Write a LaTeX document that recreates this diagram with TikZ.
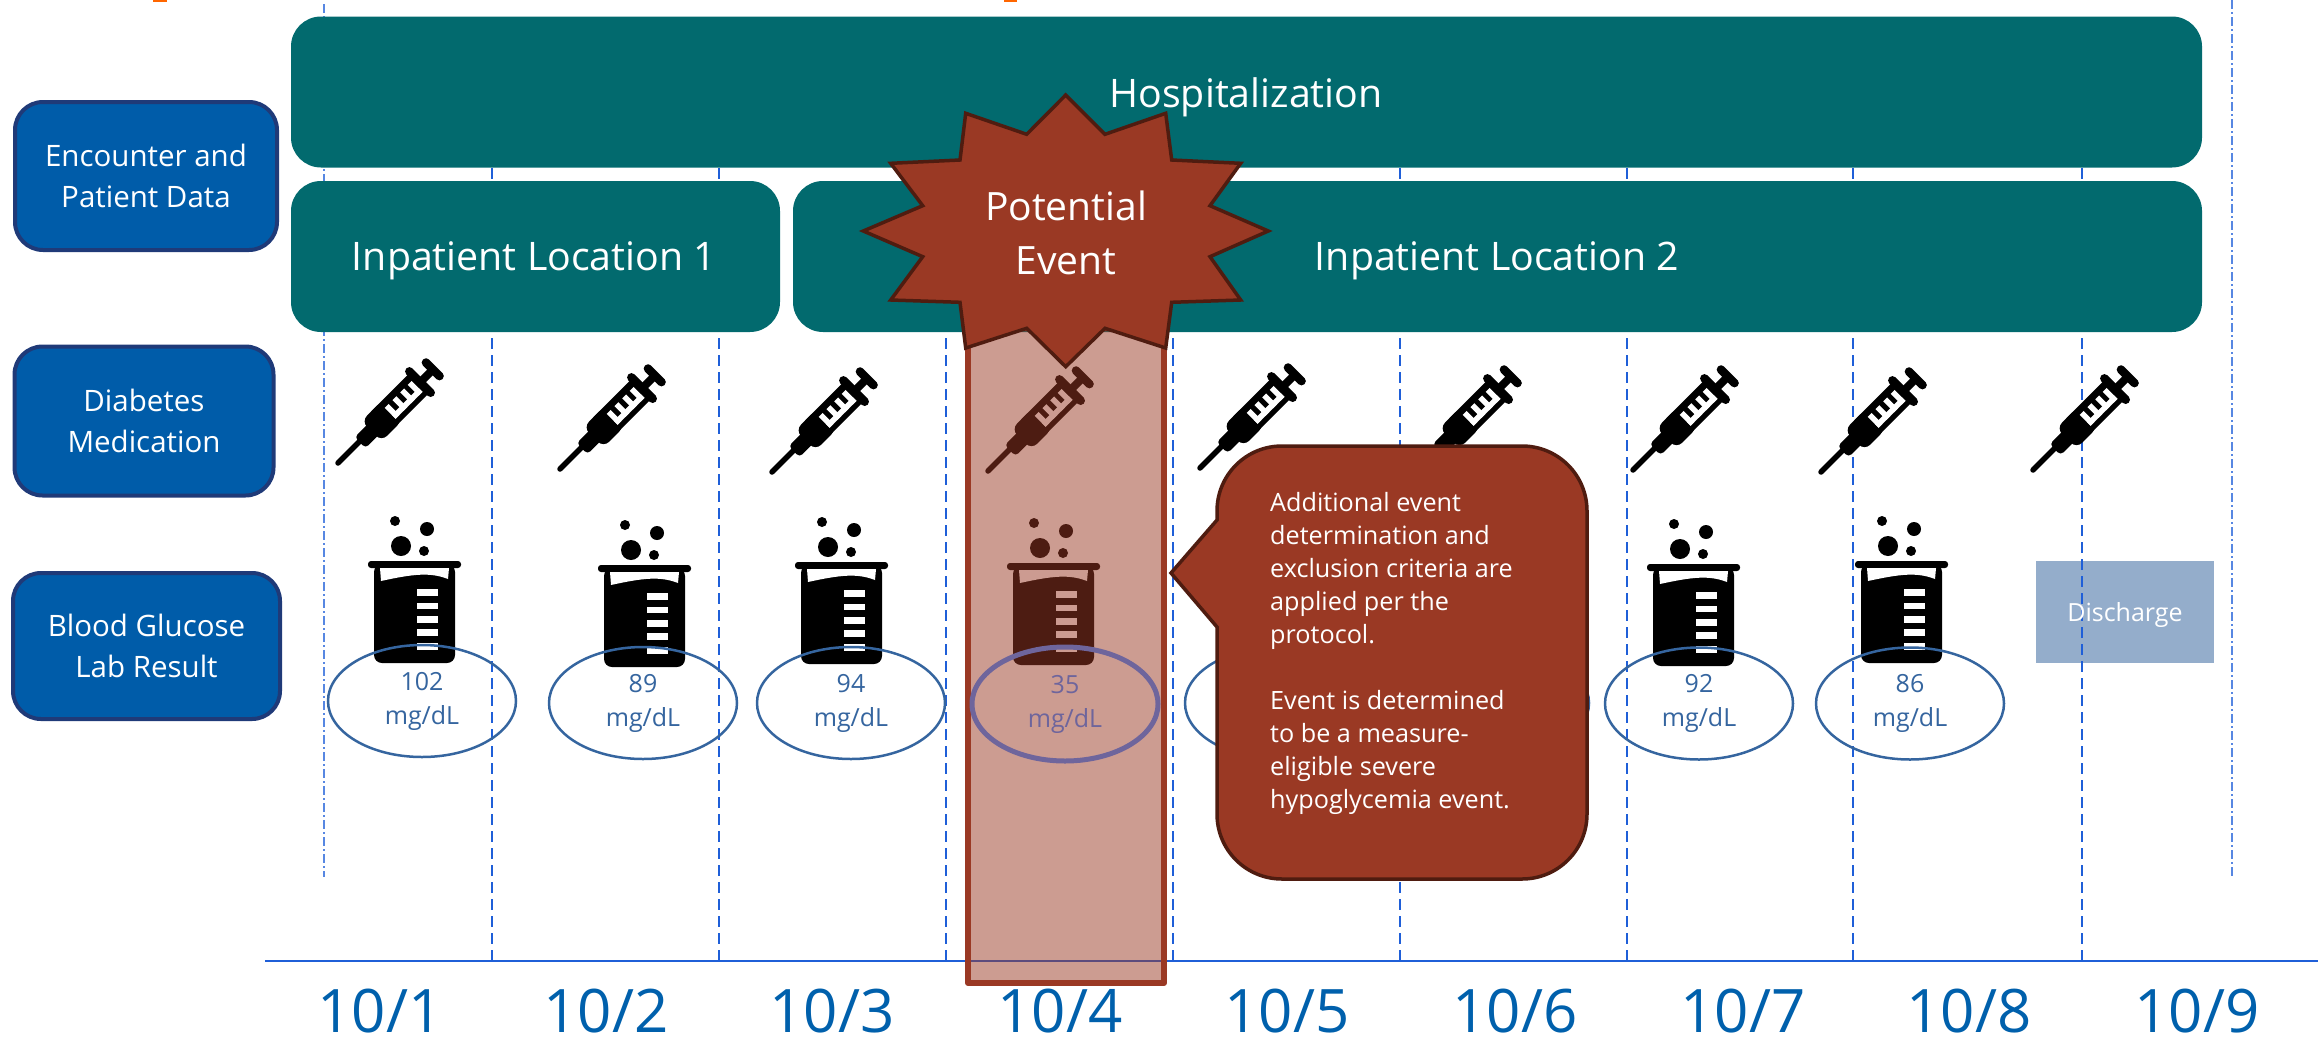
\documentclass[tikz,border=0pt]{standalone}
\usepackage{fontspec}
\setmainfont{Open Sans}
\usetikzlibrary{shapes.geometric}
\definecolor{teal1}{HTML}{026A6E}
\definecolor{navyfill}{HTML}{005CA9}
\definecolor{navyline}{HTML}{1F3A78}
\definecolor{brick}{HTML}{9A3924}
\definecolor{brickdk}{HTML}{4F1C10}
\definecolor{gridblue}{HTML}{1F5FD8}
\definecolor{ovalblue}{HTML}{35659F}
\definecolor{datecol}{HTML}{0060AC}
\definecolor{dischg}{HTML}{94ADCB}
\definecolor{purp}{HTML}{6E659C}
\newcommand{\fs}[2]{\fontsize{#1}{#2}\selectfont}
\newcommand{\ovtxt}[1]{\raisebox{-2pt}{#1}\\\raisebox{-1pt}{mg/dL}}
\tikzset{
  band/.style={rectangle,rounded corners=30pt,fill=teal1,text=white,inner sep=0pt},
  bandtext/.style={text=white,font=\fs{39.3}{44},inner sep=0pt},
  rowlabel/.style={rectangle,rounded corners=28pt,fill=navyfill,draw=navyline,line width=4pt,text=white,align=center,inner sep=0pt,font=\fs{29.5}{41}},
  griddash/.style={gridblue,line width=2.4pt,dash pattern=on 11pt off 6pt},
  gridthin/.style={gridblue!75,line width=1.2pt,dash pattern=on 9pt off 3pt on 2pt off 3pt},
  oval/.style={ellipse,draw=ovalblue,line width=2.5pt,minimum width=188pt,minimum height=112pt,inner sep=0pt,text=ovalblue,align=center,font=\fs{25}{35}},
  datelabel/.style={text=datecol,font=\fs{60}{62},inner sep=0pt},
}
\newcommand{\syrng}[2]{%
  \begin{scope}[shift={(#1,#2)},rotate=45]
    \draw[line width=5.5pt,line cap=round] (0,0) -- (34,0);
    \fill[rounded corners=4pt] (30,-6.5) rectangle (56,9);
    \fill[rounded corners=8pt] (46,-13) rectangle (76,15.5);
    \fill (60,-13) rectangle (116,15);
    \fill (112,-3) rectangle (134,5);
    \fill[rounded corners=4pt] (111,-18.5) rectangle (119.5,20);
    \fill[rounded corners=4pt] (129,-13) rectangle (137.5,14.5);
    \fill[white] (72,4) rectangle (110,9.5);
    \foreach \t in {72,83,94,104.5} {\fill[white] (\t,-6) rectangle (\t+5.5,9.5);}
  \end{scope}}
\newcommand{\bkr}[2]{%
  \begin{scope}[shift={(#1,#2)}]
    \fill[rounded corners=3pt] (0,0) rectangle (93,7);
    \fill[rounded corners=8pt] (6,3) rectangle (87,102);
    \fill[white] (12,7) -- (81,7) -- (80,18) .. controls (62,11) and (45,13) .. (13,20) -- cycle;
    \foreach \t in {28,41.5,55,68,82} {\fill[white] (49,\t) rectangle (70,\t+6.5);}
    \fill (33,-15) circle (10);
    \fill (59,-32) circle (7);
    \fill (27,-40) circle (5);
    \fill (56,-10) circle (5);
  \end{scope}}
\begin{document}
\begin{tikzpicture}[x=1pt,y=-1pt]
\useasboundingbox (0,0) rectangle (2318,1039);
\fill[orange!80!red] (153,0) rectangle (167,2);
\fill[orange!80!red] (1004,0) rectangle (1017,2);
% discharge box under grid
\node[fill=dischg,minimum width=178pt,minimum height=102pt,inner sep=0pt] (dis) at (2125,612) {};
% grid
\coordinate (axl) at (265,961);
\coordinate (axr) at (2318,961);
\draw[gridthin] (324,4) -- (324,877);
\draw[gridthin] (2232,0) -- (2232,877);
\foreach \x in {492,719,946,1173,1400,1627,1853,2082} {\draw[griddash] (\x,168) -- (\x,961);}
\draw[gridblue,line width=2.4pt] (axl) -- (axr);
% bands
\node[band,minimum width=1911pt,minimum height=151pt] (hosp) at (1246.5,92) {};
\node[band,minimum width=489pt,minimum height=151pt] (loc1) at (535.5,256.5) {};
\node[band,minimum width=1409pt,minimum height=151pt] (loc2) at (1497.5,256.5) {};
\node[bandtext] (hosptxt) at (1246,97) {Hospitalization};
\node[bandtext] (loc1txt) at (534,261) {Inpatient Location 1};
\node[bandtext] (loc2txt) at (1497,261) {Inpatient Location 2};
% row labels
\node[rowlabel,minimum width=262pt,minimum height=148pt] (rowa) at (146,176) {Encounter and\\Patient Data};
\node[rowlabel,minimum width=259pt,minimum height=149pt] (rowb) at (144,421) {Diabetes\\Medication};
\node[rowlabel,minimum width=267pt,minimum height=146pt] (rowc) at (146.5,646) {Blood Glucose\\Lab Result};
% icons
\syrng{338}{463}\syrng{560}{469}\syrng{772}{472}\syrng{988}{471}\syrng{1200}{468}\syrng{1416}{470}\syrng{1633}{470}\syrng{1821}{472}\syrng{2033}{470}
\bkr{368}{561}\bkr{598}{565}\bkr{795}{562}\bkr{1007}{563}\bkr{1647}{564}\bkr{1855}{561}
% ovals
\node[oval] (o1) at (422,701) {\ovtxt{102}};
\node[oval] (o2) at (643,703) {\ovtxt{89}};
\node[oval] (o3) at (851,703) {\ovtxt{94}};
\node[oval] (o5) at (1279,703) {};
\node[oval] (o6) at (1495,703) {};
\node[oval] (o7) at (1699,703.5) {\ovtxt{92}};
\node[oval] (o8) at (1910,703.5) {\ovtxt{86}};
\node[text=white,font=\fs{25}{30},inner sep=0pt] (distxt) at (2125,615) {Discharge};
% dates
\foreach \x/\t in {380/10\slash 1,606/10\slash 2,832/10\slash 3,1060/10\slash 4,1287/10\slash 5,1515/10\slash 6,1743/10\slash 7,1969/10\slash 8,2197/10\slash 9} {
  \node[datelabel,anchor=base] at (\x,1032) {\t};}
% highlight column
\fill[brick,fill opacity=.5] (968,328) rectangle (1164,983);
\draw[brick,line width=6pt,line join=round] (968,328) rectangle (1164,983);
\node[oval,draw=purp,line width=5pt,text=purp,minimum width=186pt,minimum height=114pt] (o4) at (1065,704) {\ovtxt{35}};
% star
\draw[fill=brick,draw=brickdk,line width=3.5pt,line join=miter]
 (1065.7,95) -- (1105,134.3) -- (1165.7,113.3) -- (1171.7,160) -- (1240.7,163.3) -- (1210,205.7) -- (1268.3,231)
 -- (1210,256.7) -- (1240.7,300) -- (1171.7,302.3) -- (1165.7,348) -- (1105,328.3) -- (1065.7,366.7)
 -- (1026.7,328.3) -- (965.7,348) -- (960,302.3) -- (890.7,300) -- (922.7,256.7) -- (863.3,231)
 -- (922.7,205.7) -- (890.7,163.3) -- (960,160) -- (965.7,113.3) -- (1026.7,134.3) -- cycle;
\node[text=white,align=center,font=\fs{39}{54},inner sep=0pt] (startxt) at (1066,233) {Potential\\Event};
% callout
\draw[fill=brick,draw=brickdk,line width=3.5pt,line join=miter]
 (1171,573) -- (1217,520) -- (1217,511) .. controls (1217,475) and (1246,446) .. (1282,446)
 -- (1522,446) .. controls (1558,446) and (1587,475) .. (1587,511)
 -- (1587,814) .. controls (1587,850) and (1558,879) .. (1522,879)
 -- (1282,879) .. controls (1246,879) and (1217,850) .. (1217,814)
 -- (1217,627) -- cycle;
\node[text=white,align=left,anchor=north west,inner sep=0pt,font=\fs{25.2}{33}] (calltxt) at (1270,492)
 {Additional event\\determination and\\exclusion criteria are\\applied per the\\protocol.\\[33pt]Event is determined\\to be a measure-\\eligible severe\\hypoglycemia event.};
\end{tikzpicture}
\end{document}
